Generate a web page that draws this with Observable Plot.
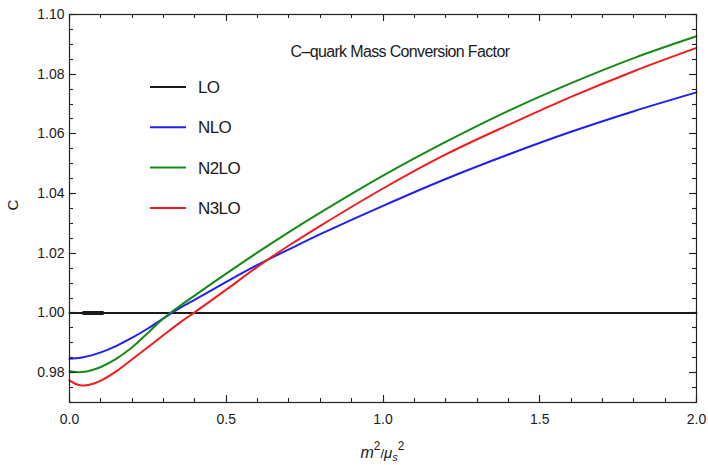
<!DOCTYPE html>
<html><head><meta charset="utf-8">
<script src="https://cdn.jsdelivr.net/npm/d3@7"></script>
<script src="https://cdn.jsdelivr.net/npm/@observablehq/plot@0.6"></script>
<style>
html,body{margin:0;padding:0;background:#fff;}
#chart svg{display:block;}
</style></head><body><div id="chart"></div>
<script>
// ---- data ----
const xs = [0, 0.02, 0.04, 0.07, 0.1, 0.15, 0.2, 0.25, 0.3, 0.35, 0.4, 0.5, 0.6, 0.7, 0.8, 1.0, 1.2, 1.4, 1.6, 1.8, 2.0];
const nloY  = [0.9847, 0.9848, 0.9851, 0.9858, 0.9868, 0.9890, 0.9917, 0.9948, 0.9982, 1.0015, 1.0045, 1.0104, 1.0161, 1.0213, 1.0264, 1.0359, 1.0449, 1.0531, 1.0607, 1.0676, 1.0739];
const n2loY = [0.9805, 0.9802, 0.9802, 0.9808, 0.9819, 0.9847, 0.9885, 0.9933, 0.9982, 1.0022, 1.0059, 1.0132, 1.0203, 1.0271, 1.0336, 1.0460, 1.0573, 1.0677, 1.0770, 1.0854, 1.0927];
const n3loY = [0.9774, 0.9762, 0.9757, 0.9761, 0.9773, 0.9805, 0.9845, 0.9885, 0.9926, 0.9966, 1.0003, 1.0078, 1.0155, 1.0226, 1.0292, 1.0417, 1.0531, 1.0630, 1.0724, 1.0810, 1.0888];
const loX = [0, 2];
const loY = [1.0, 1.0];
const loBoldX = [0.045, 0.105];
const seriesNames = ["LO", "NLO", "N2LO", "N3LO"];
const seriesColors = ["#1a1a1a", "#2020f0", "#168a16", "#f01c1c"];
const xMajorTicks = [0, 0.5, 1.0, 1.5, 2.0];
const xTickLabels = ["0.0", "0.5", "1.0", "1.5", "2.0"];
const yMajorTicks = [0.98, 1.00, 1.02, 1.04, 1.06, 1.08, 1.10];
const yTickLabels = ["0.98", "1.00", "1.02", "1.04", "1.06", "1.08", "1.10"];
const titleText = "C\u2013quark Mass Conversion Factor";
const yLabel = "C";

// ---- build table ----
const rows = [];
loX.forEach((x, i) => rows.push({series: "LO", x, y: loY[i]}));
[["NLO", nloY], ["N2LO", n2loY], ["N3LO", n3loY]].forEach(([s, ys]) =>
  xs.forEach((x, i) => rows.push({series: s, x, y: ys[i]})));
const boldRows = loBoldX.map(x => ({x, y: loY[0]}));

const xMinor = d3.range(0, 2.0001, 0.1).map(v => +v.toFixed(2));
const yMinor = d3.range(0.97, 1.1001, 0.005).map(v => +v.toFixed(3));

const font = "'Liberation Sans', Arial, Helvetica, sans-serif";
const ink = "#222";
const W = 708, H = 465, ML = 69, MR = 12, MT = 14, MB = 63;
const MAJ = 7, MIN = 4;

const plot = Plot.plot({
  width: W, height: H,
  marginLeft: ML, marginRight: MR, marginTop: MT, marginBottom: MB,
  style: {fontFamily: font, fontSize: "14px", color: "#222", background: "#fff", overflow: "visible"},
  x: {domain: [0, 2], label: null},
  y: {domain: [0.97, 1.10], label: null},
  color: {domain: seriesNames, range: seriesColors},
  marks: [
    Plot.axisX({ticks: xMajorTicks, tickSize: 0, tickPadding: 12, label: null, fill: "#1a1a1a",
      tickFormat: d => xTickLabels[xMajorTicks.indexOf(d)]}),
    Plot.axisY({ticks: yMajorTicks, tickSize: 0, tickPadding: 5, label: null, fill: "#1a1a1a",
      tickFormat: d => yTickLabels[yMajorTicks.indexOf(d)]}),
    Plot.line(rows, {x: "x", y: "y", z: "series", stroke: "series", strokeWidth: 2, curve: "catmull-rom"}),
    Plot.line(boldRows, {x: "x", y: "y", stroke: seriesColors[0], strokeWidth: 4}),
    Plot.frame({stroke: ink, strokeWidth: 1.2}),
    Plot.text([titleText], {frameAnchor: "top-left", dx: 221, dy: 31, textAnchor: "start",
      fontSize: 16, fill: "#1a1a1a"})
  ]
});
document.getElementById("chart").appendChild(plot);

// ---- inward ticks (placed through Plot's own scales), axis labels and legend ----
const svg = d3.select(plot);
const sx = plot.scale("x"), sy = plot.scale("y");
const fTop = MT, fBottom = H - MB, fLeft = ML, fRight = W - MR;
const tg = svg.append("g").attr("stroke", ink).attr("stroke-width", 1.1);
const addX = (vals, len) => vals.forEach(v => {
  const px = Math.round(sx.apply(v)) + 0.5;
  tg.append("line").attr("x1", px).attr("x2", px).attr("y1", fBottom).attr("y2", fBottom - len);
  tg.append("line").attr("x1", px).attr("x2", px).attr("y1", fTop).attr("y2", fTop + len);
});
const addY = (vals, len) => vals.forEach(v => {
  const py = Math.round(sy.apply(v)) + 0.5;
  tg.append("line").attr("y1", py).attr("y2", py).attr("x1", fLeft).attr("x2", fLeft + len);
  tg.append("line").attr("y1", py).attr("y2", py).attr("x1", fRight).attr("x2", fRight - len);
});
addX(xMinor, MIN); addX(xMajorTicks, MAJ);
addY(yMinor, MIN); addY(yMajorTicks, MAJ);

svg.selectAll("text").filter(function () { return this.textContent === titleText; })
  .attr("letter-spacing", "-0.65px");

const xl = svg.append("text").attr("x", sx.apply(1.0)).attr("y", 458)
  .attr("text-anchor", "middle").attr("font-family", font).attr("fill", "#1a1a1a").attr("font-size", 16);
xl.append("tspan").attr("font-style", "italic").text("m");
xl.append("tspan").attr("dy", -8).attr("font-size", 12).text("2");
xl.append("tspan").attr("dy", 8).attr("font-size", 13).text("/");
xl.append("tspan").attr("font-style", "italic").attr("font-size", 15).text("\u03bc");
xl.append("tspan").attr("dy", 3).attr("font-style", "italic").attr("font-size", 11).text("s");
xl.append("tspan").attr("dy", -11).attr("font-size", 12).text("2");

svg.append("text").attr("transform", "translate(18,205) rotate(-90)")
  .attr("text-anchor", "middle").attr("font-family", font).attr("font-size", 15).attr("fill", "#1a1a1a").text(yLabel);

const lg = svg.append("g");
seriesNames.forEach((s, i) => {
  const yy = 87 + 40.3 * i;
  lg.append("line").attr("x1", 150).attr("x2", 186).attr("y1", yy).attr("y2", yy)
    .attr("stroke", seriesColors[i]).attr("stroke-width", 2);
  lg.append("text").attr("x", 198).attr("y", yy + 6).attr("text-anchor", "start")
    .attr("font-family", font).attr("font-size", 17)
    .attr("letter-spacing", "-0.6px").attr("fill", "#1a1a1a").text(s);
});
</script></body></html>
